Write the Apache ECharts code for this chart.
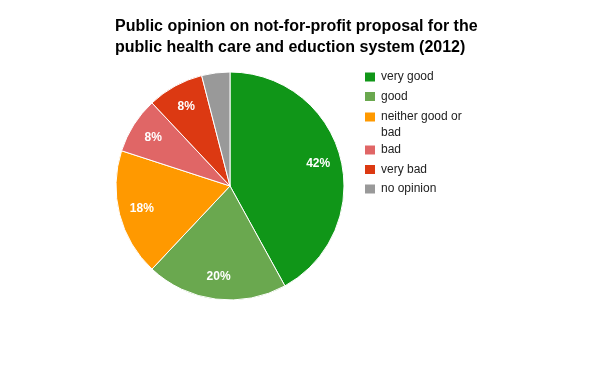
<!DOCTYPE html>
<html>
<head>
<meta charset="utf-8">
<script src="https://cdn.jsdelivr.net/npm/echarts@6/dist/echarts.min.js"></script>
<style>html,body{margin:0;padding:0;background:#fff}#c{width:600px;height:371px}</style>
</head>
<body>
<div id="c"></div>
<script>
var categories = ['very good', 'good', 'neither good or bad', 'bad', 'very bad', 'no opinion'];
var values = [42, 20, 18, 8, 8, 4];
var colors = ['#109618', '#6aa84f', '#ff9900', '#e06666', '#dc3912', '#999999'];
var titleText = 'Public opinion on not-for-profit proposal for the\npublic health care and eduction system (2012)';

var mainData = categories.map(function (c, i) {
  return { name: c, value: values[i], itemStyle: { color: colors[i] } };
});
var labelData = categories.map(function (c, i) {
  return { name: c, value: values[i], label: { show: values[i] >= 5 } };
});

var chart = echarts.init(document.getElementById('c'), null, { renderer: 'canvas' });
var font = 'Arial, Liberation Sans, sans-serif';
function legendCfg(top, names) {
  return {
    orient: 'vertical', left: 363, top: top, padding: 0,
    itemWidth: 12, itemHeight: 11, itemGap: 3.5, icon: 'rect',
    selectedMode: false,
    textStyle: { fontSize: 12, color: '#222', fontFamily: font, lineHeight: 16 },
    formatter: function (n) { return n === 'neither good or bad' ? '\nneither good or\nbad' : n; },
    data: names
  };
}
chart.setOption({
  animation: false,
  title: {
    text: titleText,
    left: 115, top: 16, padding: 0,
    textStyle: { fontSize: 16, fontWeight: 'bold', color: '#000', lineHeight: 21, fontFamily: font }
  },
  legend: [
    legendCfg(69, [categories[0], categories[1]]),
    legendCfg(93, [categories[2]]),
    legendCfg(142, [categories[3], categories[4], categories[5]])
  ],
  series: [{
    type: 'pie',
    center: [230, 186],
    radius: [0, 114],
    startAngle: 90,
    clockwise: true,
    avoidLabelOverlap: false,
    label: { show: false },
    labelLine: { show: false },
    itemStyle: { borderColor: '#fff', borderWidth: 1 },
    emphasis: { disabled: true },
    data: mainData
  }, {
    type: 'pie',
    center: [230, 186],
    radius: [62, 114],
    startAngle: 90,
    clockwise: true,
    silent: true,
    avoidLabelOverlap: false,
    itemStyle: { color: 'rgba(0,0,0,0)' },
    emphasis: { disabled: true },
    labelLine: { show: false },
    label: {
      show: true, position: 'inside', color: '#fff', fontWeight: 'bold', fontSize: 12,
      fontFamily: font,
      formatter: function (p) { return Math.round(p.percent) + '%'; }
    },
    data: labelData
  }]
});
</script>
</body>
</html>
